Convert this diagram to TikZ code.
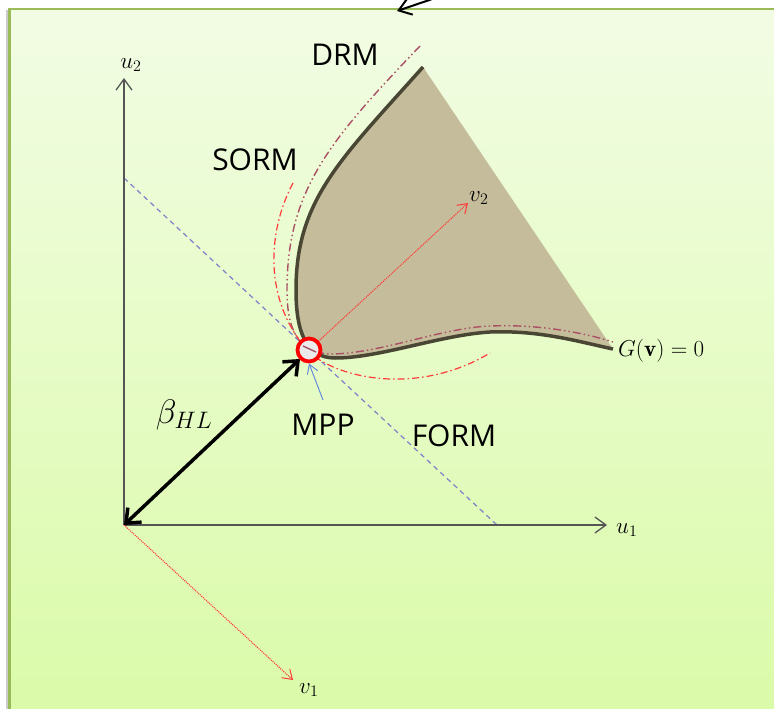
\documentclass[tikz,border=0pt]{standalone}
\usepackage{fontspec}
\usepackage{fix-cm}
\newfontfamily\labfont{Open Sans}
\usetikzlibrary{arrows.meta}
\definecolor{bgtop}{RGB}{242,252,228}
\definecolor{bgbot}{RGB}{218,251,168}
\definecolor{bordergreen}{RGB}{155,187,89}
\definecolor{regionfill}{RGB}{196,188,154}
\definecolor{boundcol}{RGB}{74,70,52}
\definecolor{drmcol}{RGB}{170,80,100}
\definecolor{sormcol}{RGB}{255,60,60}
\definecolor{formcol}{RGB}{128,128,200}
\definecolor{axiscol}{RGB}{85,85,85}
\definecolor{mppblue}{RGB}{100,140,220}
\tikzset{
  axisline/.style={axiscol,line width=1.3pt,-{Straight Barb[length=11pt,width=16pt]}},
  vecline/.style={sormcol,line width=1.1pt,densely dotted,-{Straight Barb[length=9pt,width=12pt,line width=1pt]}},
  betaarrow/.style={black,line width=3.5pt,{Straight Barb[length=12pt,width=20pt]}-{Straight Barb[length=12pt,width=20pt]}},
  formline/.style={formcol,line width=1.2pt,dash pattern=on 5pt off 4pt},
  drmline/.style={drmcol,line width=1.4pt,dash pattern=on 8pt off 3pt on 1.5pt off 3pt on 1.5pt off 3pt},
  sormline/.style={sormcol,line width=1.2pt,dash pattern=on 7pt off 3pt on 1.5pt off 3pt},
  boundline/.style={boundcol,line width=3.5pt},
  biglabel/.style={font=\labfont\fontsize{30}{34}\selectfont,text=black,inner sep=0pt},
  mathlabel/.style={font=\fontsize{23}{26}\selectfont,inner sep=0pt},
}
\def\boundpath{(423,67) .. controls (340,160) and (296,200) .. (296,290)
  .. controls (296,330) and (305,358) .. (335,358)
  .. controls (380,358) and (440,335) .. (490,332)
  .. controls (540,330) and (580,342) .. (613,349)}
\begin{document}
\begin{tikzpicture}[x=1pt,y=-1pt]
\useasboundingbox (0,0) rectangle (774,709);
\fill[white] (0,0) rectangle (774,709);
\fill[black!20] (6,10) rectangle (9.5,709);
\shade[top color=bgtop,bottom color=bgbot] (9.5,9) rectangle (790,720);
\draw[bordergreen,line width=2.5pt] (9.5,720) -- (9.5,9) -- (790,9);

% top stray arrow
\coordinate (topA) at (447,-6);
\coordinate (topB) at (397,11);
\draw[black,line width=2pt,-{Straight Barb[length=12pt,width=17pt]}] (topA) -- (topB);

% failure region
\fill[regionfill] \boundpath -- cycle;

% FORM tangent line
\coordinate (f1) at (124,178);
\coordinate (f2) at (497,525);
\draw[formline] (f1) -- (f2);

% DRM curve
\draw[drmline] (420,46) .. controls (330,140) and (287,190) .. (287,290)
  .. controls (287,330) and (298,352) .. (330,354)
  .. controls (380,354) and (440,328) .. (490,326)
  .. controls (540,324) and (585,333) .. (613,342);

% SORM curve
\draw[sormline] (293,183) .. controls (268,230) and (262,300) .. (309,352)
  .. controls (340,380) and (420,395) .. (490,353);

% limit state boundary
\draw[boundline] \boundpath;

% axes
\coordinate (O) at (124,525);
\coordinate (u2end) at (124,78);
\coordinate (u1end) at (607,525);
\draw[axisline] (O) -- (u2end);
\draw[axisline] (O) -- (u1end);
\node[mathlabel,anchor=south] (u2lab) at (131,72) {$u_2$};
\node[mathlabel,anchor=west] (u1lab) at (616,530) {$u_1$};

% MPP
\coordinate (mpp) at (309,350);
\coordinate (v2end) at (468,203);
\coordinate (v1end) at (293,680);
\draw[vecline] (mpp) -- (v2end);
\draw[vecline] (O) -- (v1end);
\node[mathlabel,anchor=west] (v2lab) at (469,198) {$v_2$};
\node[mathlabel,anchor=west] (v1lab) at (299,690) {$v_1$};

\coordinate (betaTip) at (300,359);
\draw[betaarrow] (O) -- (betaTip);
\node[font=\fontsize{34}{36}\selectfont,inner sep=0pt] (betalab) at (184,415) {$\beta_{HL}$};

\node[circle,draw=red,line width=3.8pt,fill=white!92!black,minimum size=23pt,inner sep=0pt] (mppc) at (mpp) {};
\draw[drmcol,line width=1.4pt] (303,346) -- (316,352);

\coordinate (mppTail) at (323,400);
\draw[mppblue,line width=1pt,-{Straight Barb[length=9pt,width=11pt]}] (mppTail) -- (mppc.south);

% labels
\node[biglabel] (drm) at (345,55) {DRM};
\node[biglabel] (sorm) at (255,160) {SORM};
\node[biglabel] (mpplab) at (323,425) {MPP};
\node[biglabel] (form) at (454,436) {FORM};
\node[mathlabel,anchor=west] (glab) at (618,351) {$G(\mathbf{v})=0$};
\end{tikzpicture}
\end{document}
